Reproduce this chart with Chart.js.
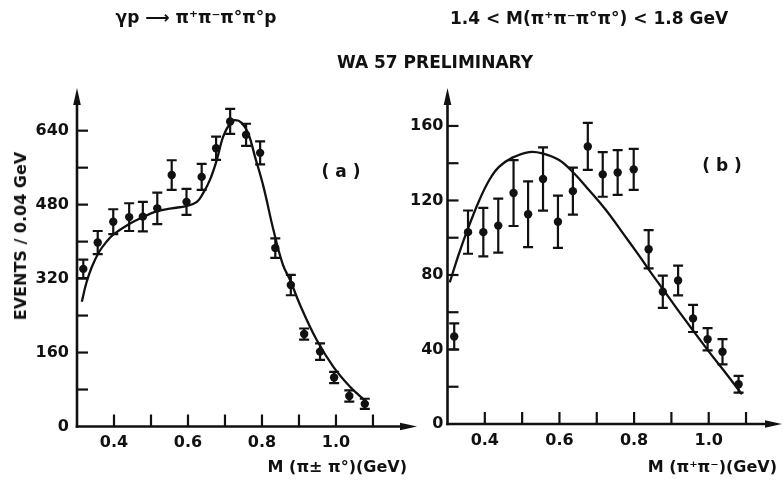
<!DOCTYPE html>
<html><head><meta charset="utf-8">
<script src="https://cdn.jsdelivr.net/npm/chart.js@4.4.0/dist/chart.umd.min.js"></script>
<style>
html,body{margin:0;padding:0;background:#fff;}
#wrap{position:relative;width:783px;height:481px;overflow:hidden;font-family:"DejaVu Sans",sans-serif;color:#111;}
canvas{position:absolute;left:0;top:0;}
.t{position:absolute;white-space:nowrap;font-weight:bold;line-height:1;transform:translateX(-50%);}
</style></head><body>
<div id="wrap">
<canvas id="ca" width="783" height="481" style="width:783px;height:481px"></canvas>
<canvas id="cb" width="783" height="481" style="width:783px;height:481px"></canvas>
<div class="t" style="left:196px;top:9px;font-size:17px">γp ⟶ π⁺π⁻π°π°p</div>
<div class="t" style="left:589px;top:10px;font-size:17px">1.4 &lt; M(π⁺π⁻π°π°) &lt; 1.8 GeV</div>
<div class="t" style="left:435px;top:54px;font-size:17px">WA 57 PRELIMINARY</div>
<div class="t" style="left:341px;top:163px;font-size:17px">( a )</div>
<div class="t" style="left:722px;top:157px;font-size:17px">( b )</div>
<div class="t" style="left:21px;top:236px;font-size:16px;transform:translate(-50%,-50%) rotate(-90deg)">EVENTS / 0.04 GeV</div>
</div>
<script>
// ---- Panel (a): M(pi± pi0) ----
const massA   = [0.317,0.356,0.398,0.441,0.478,0.517,0.556,0.596,0.637,0.676,0.714,0.757,0.795,0.836,0.878,0.914,0.957,0.995,1.036,1.078];
const eventsA = [341,398,443,453,454,472,544,486,540,602,660,631,592,386,306,200,162,106,66,49];
const errorsA = [20,25,27,30,32,34,32,28,28,25,27,24,25,21,22,12,18,12,12,11];
const fitMassA   = [0.313,0.325,0.340,0.360,0.380,0.398,0.441,0.478,0.517,0.556,0.596,0.624,0.641,0.659,0.678,0.695,0.714,0.727,0.745,0.763,0.781,0.804,0.831,0.857,0.876,0.903,0.948,0.993,1.038,1.081];
const fitEventsA = [270,310,345,378,400,415,438,453,466,472,477,486,505,533,577,627,656,663,657,634,584,519,425,349,317,263,187,129,86,54];
const yTicksA = [0,80,160,240,320,400,480,560,640];
const yLabelsA = [0,160,320,480,640];
const xTicksA = [0.4,0.5,0.6,0.7,0.8,0.9,1.0,1.1];
const xLabelsA = [0.4,0.6,0.8,1.0];

// ---- Panel (b): M(pi+ pi-) ----
const massB   = [0.318,0.355,0.396,0.436,0.477,0.516,0.556,0.596,0.636,0.676,0.716,0.756,0.799,0.839,0.877,0.918,0.958,0.997,1.037,1.080];
const eventsB = [47,103,103,106.5,124,112.6,131.5,108.6,125,149,134,135,136.7,93.8,71,77,56.7,45.5,38.8,21.3];
const errorsB = [7,11.6,13,14.5,17.7,17.7,17,14,12.6,12.6,12,12,11,10.3,8.7,8,7.3,6,6.8,4.5];
const fitMassB   = [0.306,0.331,0.355,0.385,0.412,0.438,0.474,0.519,0.554,0.599,0.639,0.679,0.724,0.768,0.813,0.848,0.875,0.920,0.955,1.0,1.045,1.089];
const fitEventsB = [76,91.6,105,120,131,138,143,146,145.3,141.7,134.6,125.6,115,103,90.5,80.5,73,60.5,51,39,27.5,16];
const yTicksB = [0,20,40,60,80,100,120,140,160];
const yLabelsB = [0,40,80,120,160];
const xTicksB = [0.4,0.5,0.6,0.7,0.8,0.9,1.0,1.1];
const xLabelsB = [0.4,0.6,0.8,1.0];

const INK = '#111';
const FONT = '"DejaVu Sans", sans-serif';
const has = (arr, v) => arr.some(a => Math.abs(a - v) < 1e-6);

const framePlugin = {
  id: 'frame',
  beforeDatasetsDraw(chart, args, o) {
    const {ctx, scales: {x, y}} = chart;
    const ds = chart.data.datasets[0];
    ctx.save();
    ctx.strokeStyle = INK; ctx.lineWidth = 2.2; ctx.lineCap = 'butt';
    ds.data.forEach(p => {
      const px = x.getPixelForValue(p.x);
      const y1 = y.getPixelForValue(p.y + p.e), y2 = y.getPixelForValue(p.y - p.e);
      ctx.beginPath();
      ctx.moveTo(px, y1); ctx.lineTo(px, y2);
      ctx.moveTo(px - 5, y1); ctx.lineTo(px + 5, y1);
      ctx.moveTo(px - 5, y2); ctx.lineTo(px + 5, y2);
      ctx.stroke();
    });
    ctx.restore();
  },
  afterDraw(chart, args, o) {
    const {ctx, chartArea: {left, right, top, bottom}, scales: {x, y}} = chart;
    ctx.save();
    ctx.strokeStyle = INK; ctx.fillStyle = INK; ctx.lineWidth = 2.6;
    ctx.beginPath(); ctx.moveTo(left, bottom + 1.3); ctx.lineTo(left, top + 10); ctx.stroke();
    ctx.beginPath(); ctx.moveTo(left, top - 2); ctx.lineTo(left - 3.8, top + 15); ctx.lineTo(left + 3.8, top + 15); ctx.closePath(); ctx.fill();
    const tip = right + o.ext;
    ctx.beginPath(); ctx.moveTo(left - 1.3, bottom); ctx.lineTo(tip - 10, bottom); ctx.stroke();
    ctx.beginPath(); ctx.moveTo(tip, bottom); ctx.lineTo(tip - 17, bottom - 3.8); ctx.lineTo(tip - 17, bottom + 3.8); ctx.closePath(); ctx.fill();
    ctx.lineWidth = 2.2;
    y.ticks.forEach(t => {
      if (t.value <= 0) return;
      const py = y.getPixelForValue(t.value);
      ctx.beginPath(); ctx.moveTo(left, py); ctx.lineTo(left + 11, py); ctx.stroke();
    });
    x.ticks.forEach(t => {
      const px = x.getPixelForValue(t.value);
      ctx.beginPath(); ctx.moveTo(px, bottom); ctx.lineTo(px, bottom - 12); ctx.stroke();
    });
    ctx.restore();
  }
};

function build(id, cfg) {
  const pts = cfg.mass.map((m, i) => ({x: m, y: cfg.events[i], e: cfg.errors[i]}));
  const fit = cfg.fitMass.map((m, i) => ({x: m, y: cfg.fitEvents[i]}));
  const tickFont = {family: FONT, size: 16, weight: 'bold'};
  return new Chart(document.getElementById(id), {
    type: 'scatter',
    data: {datasets: [
      {data: pts, pointRadius: 4.2, pointBackgroundColor: INK, pointBorderColor: INK, pointBorderWidth: 0, showLine: false, order: 1},
      {type: 'line', data: fit, borderColor: INK, borderWidth: 2.3, pointRadius: 0, fill: false, tension: 0.4, order: 2}
    ]},
    options: {
      responsive: false, animation: false, events: [],
      layout: {padding: cfg.pad},
      plugins: {legend: {display: false}, tooltip: {enabled: false}, frame: {ext: cfg.ext}},
      scales: {
        x: {
          type: 'linear', min: cfg.xmin, max: cfg.xmax,
          grid: {display: false, drawTicks: false}, border: {display: false},
          afterBuildTicks: s => { s.ticks = cfg.xTicks.map(v => ({value: v})); },
          afterFit: s => { s.height = cfg.xH; },
          ticks: {autoSkip: false, maxRotation: 0, padding: 7, color: INK, font: tickFont,
                  callback: v => has(cfg.xLabels, v) ? v.toFixed(1) : ''},
          title: {display: true, text: cfg.xTitle, align: 'end', color: INK,
                  font: {family: FONT, size: 16, weight: 'bold'}, padding: {top: 0, bottom: 4}}
        },
        y: {
          type: 'linear', min: 0, max: cfg.ymax,
          grid: {display: false, drawTicks: false}, border: {display: false},
          afterBuildTicks: s => { s.ticks = cfg.yTicks.map(v => ({value: v})); },
          afterFit: s => { s.width = cfg.yW; },
          ticks: {autoSkip: false, padding: cfg.yPad, color: INK, font: tickFont,
                  callback: v => has(cfg.yLabels, v) ? String(v) : ''}
        }
      }
    },
    plugins: [framePlugin]
  });
}

build('ca', {
  mass: massA, events: eventsA, errors: errorsA, fitMass: fitMassA, fitEvents: fitEventsA,
  xTicks: xTicksA, xLabels: xLabelsA, yTicks: yTicksA, yLabels: yLabelsA,
  xmin: 0.3, xmax: 1.192, ymax: 728, xTitle: 'M (π± π°)(GeV)',
  pad: {left: 0, top: 90, right: 376, bottom: 0}, xH: 54.5, yW: 77, yPad: 8, ext: 10
});
build('cb', {
  mass: massB, events: eventsB, errors: errorsB, fitMass: fitMassB, fitEvents: fitEventsB,
  xTicks: xTicksB, xLabels: xLabelsB, yTicks: yTicksB, yLabels: yLabelsB,
  xmin: 0.3, xmax: 1.183, ymax: 179.3, xTitle: 'M (π⁺π⁻)(GeV)',
  pad: {left: 0, top: 90, right: 6, bottom: 0}, xH: 57, yW: 447.5, yPad: 4, ext: 5
});
</script>
</body></html>
